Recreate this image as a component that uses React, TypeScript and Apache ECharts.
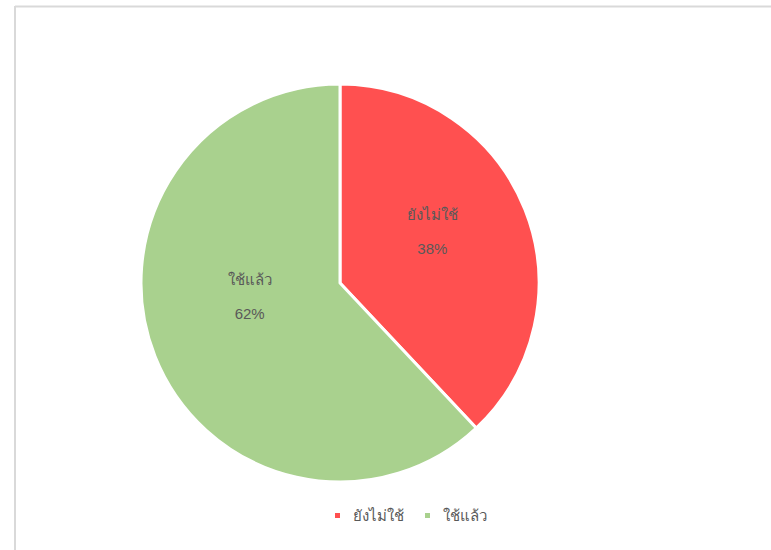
import React, { useEffect, useRef } from "react";
import * as echarts from "echarts";

const categories = ["ยังไม่ใช้", "ใช้แล้ว"];
const values = [38, 62];
const colors = ["#FF5050", "#A9D18E"];
const labelOffsets = [
  [-3, -14],
  [5, -24],
];

export default function App() {
  const ref = useRef<HTMLDivElement>(null);
  useEffect(() => {
    if (!ref.current) return;
    const chart = echarts.init(ref.current, null, { renderer: "svg" });
    const font = "'Liberation Sans', Arial, sans-serif";
    chart.setOption({
      animation: false,
      backgroundColor: "#ffffff",
      textStyle: { fontFamily: font },
      color: colors,
      graphic: [
        {
          type: "line",
          shape: { x1: 15, y1: 6.5, x2: 771, y2: 6.5 },
          style: { stroke: "#d9d9d9", lineWidth: 2 },
        },
        {
          type: "line",
          shape: { x1: 15, y1: 6, x2: 15, y2: 550 },
          style: { stroke: "#d9d9d9", lineWidth: 2 },
        },
      ],
      legend: {
        data: categories,
        top: 503,
        left: 328,
        itemWidth: 7,
        itemHeight: 7,
        itemGap: 19,
        icon: "rect",
        textStyle: {
          color: "#595959",
          fontSize: 15,
          fontFamily: font,
          padding: [0, 0, 0, 7],
        },
      },
      series: [
        {
          type: "pie",
          center: [340, 283],
          radius: 199,
          startAngle: 90,
          clockwise: true,
          itemStyle: { borderColor: "#ffffff", borderWidth: 3 },
          label: {
            show: true,
            position: "inside",
            formatter: "{b}\n\n{d}%",
            color: "#595959",
            fontSize: 15,
            lineHeight: 17,
            fontFamily: font,
          },
          labelLine: { show: false },
          emphasis: { disabled: true },
          data: categories.map((name, i) => ({
            name,
            value: values[i],
            label: { offset: labelOffsets[i] },
          })),
        },
      ],
    });
    return () => chart.dispose();
  }, []);
  return (
    <div
      ref={ref}
      style={{ position: "fixed", left: 0, top: 0, width: 771, height: 550 }}
    />
  );
}
